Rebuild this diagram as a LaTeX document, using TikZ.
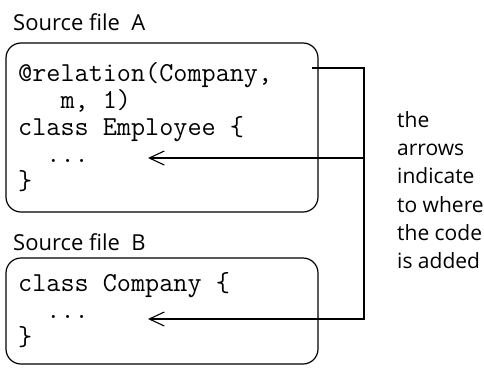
\documentclass[tikz,border=0pt]{standalone}
\usepackage{fontspec}
\setmainfont{Open Sans}
\usetikzlibrary{arrows.meta}
\begin{document}
\begin{tikzpicture}[x=1pt,y=-1pt,
  filebox/.style={draw, line width=1.2pt, rounded corners=15pt},
  title/.style={anchor=base west, inner sep=0pt, font=\fontsize{22}{26}\selectfont},
  code/.style={anchor=base west, inner sep=0pt, font=\ttfamily\fontsize{27.4}{30}\selectfont},
  note/.style={anchor=base west, inner sep=0pt, font=\fontsize{21}{24}\selectfont},
  link/.style={draw, line width=1.1pt},
  insert/.style={link, -{Straight Barb[length=15pt,width=14pt,line width=1.1pt]}}]
\useasboundingbox (0,0) rectangle (484,367);

% file A
\node[title] (titleA) at (13,30) {Source file\ \ A};
\draw[filebox] (6,43) rectangle (318,212);
\node[code] (a1) at (18,81) {@relation(Company,};
\node[code] (a2) at (18,108) {\ \ \ m, 1)};
\node[code] (a3) at (18,135) {class Employee \{};
\node[code] (a4) at (18,162) {\ \ ...};
\node[code] (a5) at (18,189) {\}};

% file B
\node[title] (titleB) at (13,250) {Source file\ \ B};
\draw[filebox] (6,258) rectangle (318,364);
\node[code] (b1) at (18,291) {class Company \{};
\node[code] (b2) at (18,318) {\ \ ...};
\node[code] (b3) at (18,345) {\}};

% side note
\node[note] (n1) at (397,127) {the};
\node[note] (n2) at (397,155) {arrows};
\node[note] (n3) at (397,183) {indicate};
\node[note] (n4) at (397,212) {to where};
\node[note] (n5) at (397,240) {the code};
\node[note] (n6) at (397,268) {is added};

% connectors
\coordinate (src) at (312,68);
\coordinate (turn) at (364,68);
\coordinate (fork) at (364,158);
\coordinate (corner) at (364,319);
\coordinate (tipA) at (148,158);
\coordinate (tipB) at (148,319);
\draw[link] (src) -- (turn) -- (fork);
\draw[insert] (fork) -- (tipA);
\draw[insert] (fork) -- (corner) -- (tipB);
\end{tikzpicture}
\end{document}
